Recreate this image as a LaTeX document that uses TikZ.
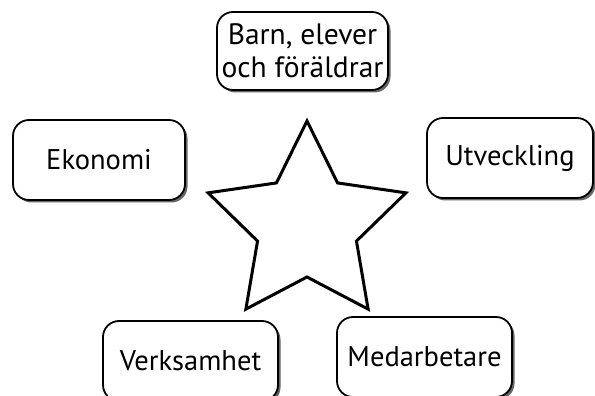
\documentclass[tikz,border=0pt]{standalone}
\usepackage{fontspec}
\setmainfont{PT Sans}
\usetikzlibrary{shadows,calc}
\tikzset{
  box/.style={draw=black, line width=1.8pt, fill=white, rounded corners=16pt,
    align=center, inner sep=0pt,
    drop shadow={shadow xshift=2.5pt, shadow yshift=-2.5pt, fill=black!60, opacity=1},
    font=\fontsize{28.5}{33}\selectfont},
  starline/.style={draw=black, line width=3pt, line join=miter, fill=white}
}
\begin{document}
\begin{tikzpicture}[x=1pt,y=1pt]
\useasboundingbox (0,0) rectangle (595,396);
\node[box, minimum width=171pt, minimum height=78pt, font=\fontsize{29.5}{33}\selectfont] (barn) at (302.5,345) {Barn, elever\\och föräldrar};
\node[box, minimum width=172pt, minimum height=80pt] (ekonomi) at (99,236) {Ekonomi};
\node[box, minimum width=166pt, minimum height=80pt] (utv) at (510,238) {Utveckling};
\node[box, minimum width=175pt, minimum height=80pt] (verk) at (190.5,35) {Verksamhet};
\node[box, minimum width=175pt, minimum height=80pt] (med) at (424.5,39) {Medarbetare};
\coordinate (sc) at (307,171);
\draw[starline] ($(sc)+(90:104)$) -- ($(sc)+(126:52)$) -- ($(sc)+(162:104)$) -- ($(sc)+(198:52)$)
  -- ($(sc)+(234:104)$) -- ($(sc)+(270:52)$) -- ($(sc)+(306:104)$) -- ($(sc)+(342:52)$)
  -- ($(sc)+(18:104)$) -- ($(sc)+(54:52)$) -- cycle;
\end{tikzpicture}
\end{document}
